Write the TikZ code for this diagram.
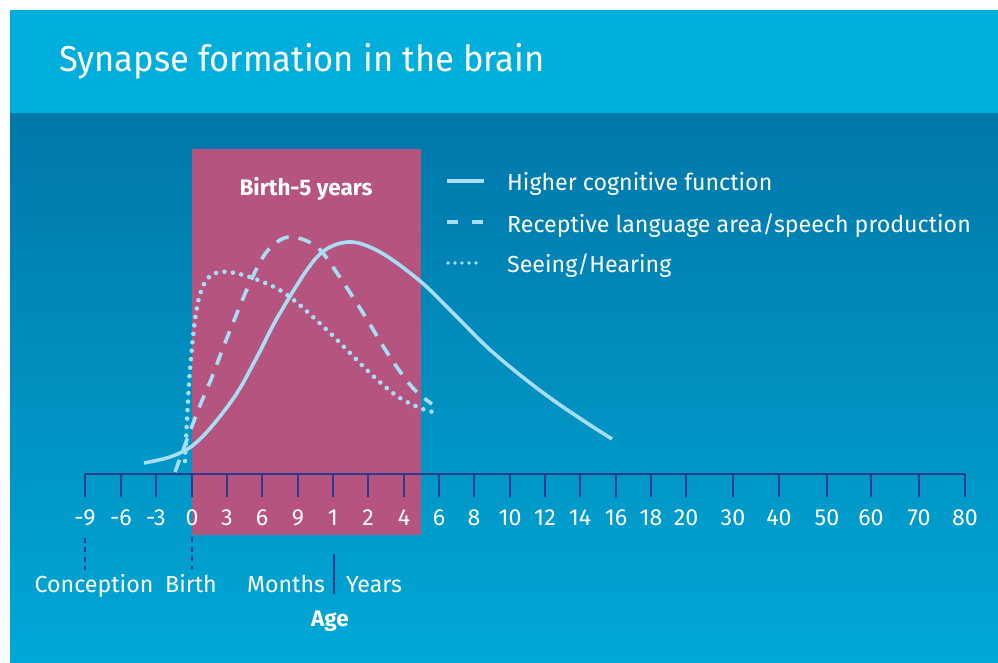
\documentclass[tikz,border=0pt]{standalone}
\usepackage{fontspec}
\setmainfont{Fira Sans}
\newfontfamily\titlefont[FakeStretch=0.96]{Fira Sans}
\usepackage{tikz}
\definecolor{headcol}{HTML}{00AEDB}
\definecolor{bgtop}{HTML}{0077A9}
\definecolor{bgbot}{HTML}{00A8D6}
\definecolor{pinkbox}{HTML}{B4547F}
\definecolor{curvecol}{HTML}{A8DDF4}
\definecolor{axiscol}{HTML}{2B3A8E}
\tikzstyle{txt} = [text=white, inner sep=0pt, font=\fontsize{23.2}{26}\selectfont]
\tikzstyle{boldtxt} = [txt, font=\bfseries\fontsize{22.5}{26}\selectfont]
\tikzstyle{curveline} = [draw=curvecol, line width=3.6pt]
\tikzstyle{dashline} = [curveline, dash pattern=on 13pt off 10pt]
\tikzstyle{dotline} = [curveline, line width=4.6pt, line cap=round, dash pattern=on 0pt off 8.5pt]
\tikzstyle{axisline} = [draw=axiscol, line width=2pt]
\tikzstyle{marker} = [axisline, dash pattern=on 5pt off 4.5pt]

\begin{document}
\begin{tikzpicture}[x=1pt, y=-1pt]
    \useasboundingbox (0,0) rectangle (998,662);
    % background
    \shade [top color=bgtop, bottom color=bgbot] (10,113) rectangle (998,662);
    \fill [headcol] (10,10) rectangle (998,113);
    \node [txt, anchor=base west, font=\titlefont\fontsize{36}{40}\selectfont] (title) at (59,71) {Synapse formation in the brain};

    % birth to five years
    \fill [pinkbox] (192,149) rectangle (421,535);
    \node [boldtxt, anchor=base] (band) at (306,195) {Birth-5 years};

    % age axis
    \draw [axisline] (85,474) -- (965,474);
    \foreach \x/\lab [count=\i] in {85/-9, 121/-6, 156/-3, 192/0, 227/3, 262/6, 298/9, 333/1, 368/2, 404/4,
        439/6, 474/8, 510/10, 545/12, 580/14, 616/16, 651/18, 686/20, 733/30, 779/40, 827/50, 871/60, 919/70, 965/80} {
        \draw [axisline] (\x,474) -- (\x,497);
        \node [txt, anchor=base] (tick\i) at (\x,525) {\lab};
    }

    \node [txt, anchor=base] (conception) at (94,592) {Conception};
    \node [txt, anchor=base] (birth) at (191,592) {Birth};
    \node [txt, anchor=base] (months) at (286,592) {Months};
    \node [txt, anchor=base] (years) at (374,592) {Years};
    \node [boldtxt, anchor=base] (age) at (330,626) {Age};
    \draw [marker] ([yshift=-12pt]tick1.south) -- ([yshift=-44pt]tick1.south);
    \draw [marker] ([yshift=-12pt]tick4.south) -- ([yshift=-44pt]tick4.south);
    \draw [axisline] (334,554) -- (334,594);

    % curves
    \draw [curveline] plot [smooth, tension=0.55] coordinates {(144,463) (170,457) (192,446) (213,425) (237,393)
        (257,357) (280,313) (317,257) (348,242) (380,252) (420,281) (453,313) (487,347) (520,375) (553,400) (587,423) (612,439)};
    \draw [dashline] plot [smooth, tension=0.6] coordinates {(175,472) (197,413) (212,377) (223,348) (235,318)
        (248,287) (263,257) (277,242) (293,237) (317,247) (337,273) (363,313) (390,357) (413,388) (432,404)};
    \draw [dotline] plot [smooth, tension=0.6] coordinates {(185,461) (187,420) (190,370) (196,313) (204,284)
        (216,273) (235,273) (263,282) (290,297) (330,333) (370,373) (397,396) (420,408) (433,412)};

    % legend
    \draw [curveline] (447,181) -- (484,181);
    \node [txt, anchor=base west] (leg1) at (507,190) {Higher cognitive function};
    \draw [dashline, dash pattern=on 11pt off 14pt] (447,222) -- (484,222);
    \node [txt, anchor=base west] (leg2) at (507,232) {Receptive language area/speech production};
    \draw [dotline, line width=3.6pt, dash pattern=on 0pt off 7pt] (448,263) -- (483,263);
    \node [txt, anchor=base west] (leg3) at (507,272) {Seeing/Hearing};
\end{tikzpicture}
\end{document}
